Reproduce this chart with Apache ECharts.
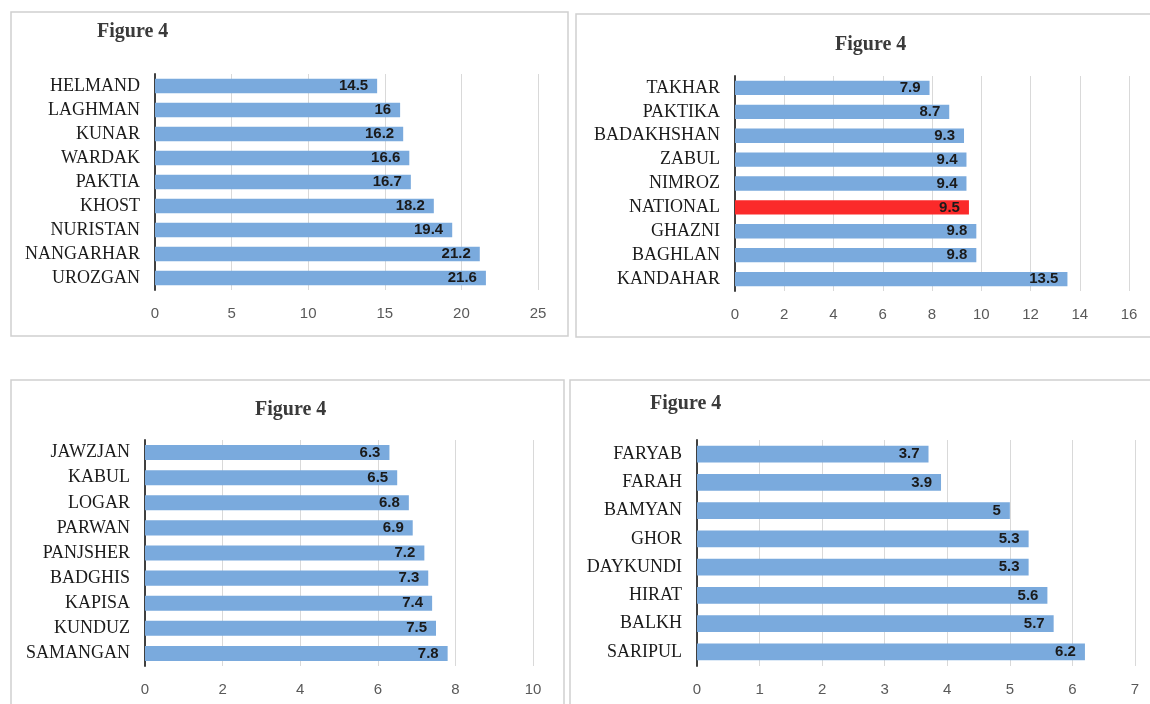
<!DOCTYPE html>
<html><head><meta charset="utf-8">
<script src="https://cdn.jsdelivr.net/npm/echarts@6/dist/echarts.min.js"></script>
<style>html,body{margin:0;padding:0;background:#fff}#c{width:1150px;height:704px}</style>
</head><body><div id="c"></div>
<script>
var title = 'Figure 4';
var cats1 = ['HELMAND','LAGHMAN','KUNAR','WARDAK','PAKTIA','KHOST','NURISTAN','NANGARHAR','UROZGAN'];
var vals1 = [14.5,16,16.2,16.6,16.7,18.2,19.4,21.2,21.6];
var ticks1 = {min:0,max:25,interval:5};
var cats2 = ['TAKHAR','PAKTIKA','BADAKHSHAN','ZABUL','NIMROZ','NATIONAL','GHAZNI','BAGHLAN','KANDAHAR'];
var vals2 = [7.9,8.7,9.3,9.4,9.4,9.5,9.8,9.8,13.5];
var ticks2 = {min:0,max:16,interval:2};
var cats3 = ['JAWZJAN','KABUL','LOGAR','PARWAN','PANJSHER','BADGHIS','KAPISA','KUNDUZ','SAMANGAN'];
var vals3 = [6.3,6.5,6.8,6.9,7.2,7.3,7.4,7.5,7.8];
var ticks3 = {min:0,max:10,interval:2};
var cats4 = ['FARYAB','FARAH','BAMYAN','GHOR','DAYKUNDI','HIRAT','BALKH','SARIPUL'];
var vals4 = [3.7,3.9,5,5.3,5.3,5.6,5.7,6.2];
var ticks4 = {min:0,max:7,interval:1};
var highlightCat = 'NATIONAL';

var BLUE = '#7aaadd', RED = '#fb2a2a';
var panels = [
  {cats:cats1, vals:vals1, t:ticks1, grid:{left:155,top:74,width:383,height:216}, title:{left:92,top:17}},
  {cats:cats2, vals:vals2, t:ticks2, grid:{left:735,top:76,width:394,height:215}, title:{left:830,top:30}},
  {cats:cats3, vals:vals3, t:ticks3, grid:{left:145,top:440,width:388,height:226}, title:{left:250,top:395}},
  {cats:cats4, vals:vals4, t:ticks4, grid:{left:697,top:440,width:438,height:226}, title:{left:645,top:389}}
];
var option = {
  animation:false,
  backgroundColor:'#fff',
  title:[], grid:[], xAxis:[], yAxis:[], series:[],
  graphic:[
    {type:'rect', shape:{x:11,y:12,width:557,height:324}, style:{fill:'none',stroke:'#d0d0d0',lineWidth:1.5}},
    {type:'rect', shape:{x:576,y:14,width:600,height:323}, style:{fill:'none',stroke:'#d0d0d0',lineWidth:1.5}},
    {type:'rect', shape:{x:11,y:380,width:553,height:340}, style:{fill:'none',stroke:'#d0d0d0',lineWidth:1.5}},
    {type:'rect', shape:{x:570,y:380,width:600,height:340}, style:{fill:'none',stroke:'#d0d0d0',lineWidth:1.5}}
  ]
};
panels.forEach(function(p,i){
  option.title.push({text:title, left:p.title.left, top:p.title.top,
    textStyle:{fontFamily:'Liberation Serif',fontWeight:'bold',fontSize:20,color:'#3a3a3a'}});
  option.grid.push(p.grid);
  option.xAxis.push({type:'value', gridIndex:i, min:p.t.min, max:p.t.max, interval:p.t.interval,
    axisLine:{show:false}, axisTick:{show:false},
    axisLabel:{color:'#595959', fontSize:15, fontFamily:'Liberation Sans Narrow, Liberation Sans, sans-serif', margin:16},
    splitLine:{show:true, lineStyle:{color:'#d9d9d9', width:1}}});
  option.yAxis.push({type:'category', gridIndex:i, data:p.cats, inverse:true,
    axisLine:{show:true, lineStyle:{color:'#404040', width:2}}, axisTick:{show:false},
    axisLabel:{color:'#1a1a1a', fontSize:18, fontFamily:'Liberation Serif', margin:15}});
  option.series.push({type:'bar', xAxisIndex:i, yAxisIndex:i, barCategoryGap:'40%',
    data:p.vals.map(function(v,j){
      return p.cats[j]===highlightCat ? {value:v, itemStyle:{color:RED}} : v;
    }),
    itemStyle:{color:BLUE},
    label:{show:true, position:'insideRight', distance:9, color:'#1a1a1a', fontWeight:'bold', fontSize:15,
      fontFamily:'Liberation Sans Narrow, Liberation Sans, sans-serif'}});
});
var chart = echarts.init(document.getElementById('c'), null, {renderer:'canvas'});
chart.setOption(option);
</script></body></html>
